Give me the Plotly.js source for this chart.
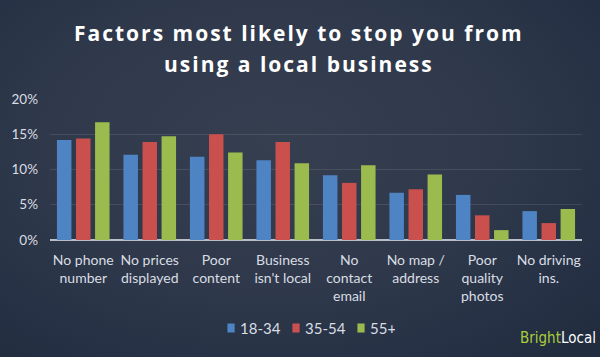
<!DOCTYPE html>
<html>
<head>
<meta charset="utf-8">
<script src="https://cdn.plot.ly/plotly-3.0.1.min.js"></script>
<style>
  html, body { margin: 0; padding: 0; }
  body {
    width: 600px; height: 357px; overflow: hidden;
    background: radial-gradient(ellipse 75% 80% at 45% 40%, #363f50 0%, #2f394b 50%, #263145 80%, #212c3f 100%);
  }
  #chart { width: 600px; height: 357px; }
  text[data-unformatted^="Factors"], text[data-unformatted^="using a local"] { letter-spacing: 2px; }
  .legend .legendpoints { transform-box: fill-box; transform-origin: center; transform: translateX(11px) scale(0.6, 0.75); }
</style>
</head>
<body>
<div id="chart"></div>
<script>
const categories = [
  "No phone<br>number", "No prices<br>displayed", "Poor<br>content", "Business<br>isn't local",
  "No<br>contact<br>email", "No map /<br>address", "Poor<br>quality<br>photos", "No driving<br>ins."
];
const seriesNames = ["18-34", "35-54", "55+"];
const age18to34 = [14.2, 12.1, 11.8, 11.3, 9.2, 6.7, 6.4, 4.1];
const age35to54 = [14.4, 13.9, 15.0, 13.9, 8.1, 7.2, 3.5, 2.4];
const age55plus = [16.7, 14.7, 12.4, 10.9, 10.6, 9.3, 1.4, 4.4];
const yTickValues = [0, 5, 10, 15, 20];
const yTickLabels = ["0%", "5%", "10%", "15%", "20%"];

const colors = ["#4f84c4", "#c9504d", "#9bbb4f"];
const values = [age18to34, age35to54, age55plus];

const textColor = "#d9dde3";
const family = "Lato, 'Open Sans', sans-serif";

const data = values.map((v, i) => ({
  type: "bar",
  name: seriesNames[i],
  x: categories,
  y: v,
  marker: { color: colors[i], line: { width: 0 } },
  hoverinfo: "x+y+name"
}));

const layout = {
  width: 600, height: 357,
  paper_bgcolor: "rgba(0,0,0,0)",
  plot_bgcolor: "rgba(0,0,0,0)",
  margin: { l: 50, r: 18, t: 99, b: 114 },
  barmode: "group",
  bargap: 0.14,
  bargroupgap: 0.24,
  font: { family: family, size: 14, color: textColor },
  showlegend: true,
  legend: {
    orientation: "h",
    x: 0.282, xanchor: "left",
    y: -0.625, yanchor: "middle",
    font: { family: family, size: 15, color: textColor },
    itemwidth: 30,
    entrywidth: 20,
    entrywidthmode: "pixels",
    tracegroupgap: 0,
    bgcolor: "rgba(0,0,0,0)"
  },
  xaxis: {
    type: "category",
    showgrid: false,
    zeroline: false,
    showline: false,
    ticks: "",
    tickfont: { family: family, size: 14, color: textColor },
    ticklabelstandoff: 10,
    fixedrange: true
  },
  yaxis: {
    range: [0, 20],
    tickvals: yTickValues,
    ticktext: yTickLabels,
    showgrid: true,
    gridcolor: "rgba(255,255,255,0.10)",
    gridwidth: 1,
    zeroline: true,
    zerolinecolor: "#b9bec6",
    zerolinewidth: 2,
    showline: false,
    ticks: "",
    tickfont: { family: family, size: 13.5, color: textColor },
    ticklabelstandoff: 11,
    fixedrange: true
  },
  annotations: [
    {
      text: "Factors most likely to stop you from",
      xref: "paper", yref: "paper", x: 0.468, y: 1 + (99 - 48) / 144,
      xanchor: "center", yanchor: "bottom", showarrow: false,
      font: { family: "'Open Sans', sans-serif", size: 21, color: "#ffffff", weight: 700 }
    },
    {
      text: "using a local business",
      xref: "paper", yref: "paper", x: 0.468, y: 1 + (99 - 80) / 144,
      xanchor: "center", yanchor: "bottom", showarrow: false,
      font: { family: "'Open Sans', sans-serif", size: 21, color: "#ffffff", weight: 700 }
    },
    {
      text: "<span style='color:#a9cd3c'>Bright</span>Local",
      xref: "paper", yref: "paper", x: (598 - 50) / 532, y: (243 - 354) / 144,
      xanchor: "right", yanchor: "bottom", showarrow: false,
      font: { family: "'Liberation Sans Narrow', 'Arial Narrow', 'DejaVu Sans Condensed', sans-serif", size: 15, color: "#ffffff" }
    }
  ]
};

Plotly.newPlot("chart", data, layout, { displayModeBar: false, staticPlot: true });
</script>
</body>
</html>
